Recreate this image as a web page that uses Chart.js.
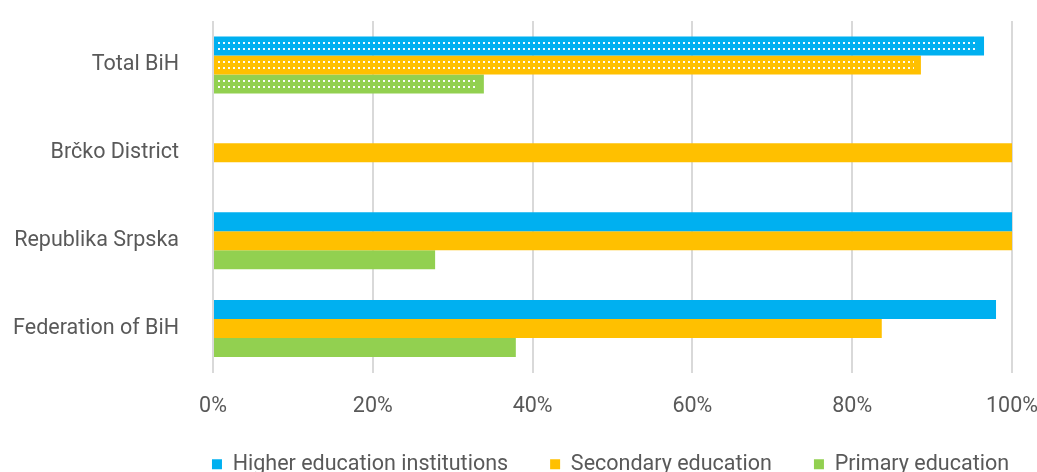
<!DOCTYPE html>
<html><head><meta charset="utf-8">
<script src="https://cdn.jsdelivr.net/npm/chart.js@4"></script>
<style>html,body{margin:0;padding:0;background:#fff}#wrap{width:1037px;height:472px}</style>
</head><body><div id="wrap"><canvas id="c" width="1037" height="472"></canvas></div>
<script>
const categories = ["Total BiH", "Brčko District", "Republika Srpska", "Federation of BiH"];
const seriesNames = ["Higher education institutions", "Secondary education", "Primary education"];
const higherEd = [96.5, null, 100, 98];
const secondaryEd = [88.6, 100, 100, 83.7];
const primaryEd = [33.9, null, 27.8, 37.9];
const xTicks = [0, 20, 40, 60, 80, 100];
const colors = ["#00B0F0", "#FFC000", "#92D050"];

const dottedPlugin = {
  id: 'dotted',
  afterLayout(chart) {
    if (chart.legend) { chart.legend.left += 98; chart.legend.right += 98; }
    const xs = chart.scales.x;
    if (xs) { xs.bottom = xs.top + 70; }
  },
  afterDatasetsDraw(chart) {
    const ctx = chart.ctx;
    chart.data.datasets.forEach((ds, di) => {
      const meta = chart.getDatasetMeta(di);
      const el = meta.data[0];
      if (!el || ds.data[0] == null) return;
      const p = el.getProps(['x','y','base','height'], true);
      ctx.save();
      ctx.strokeStyle = 'rgba(255,255,255,0.95)';
      ctx.lineWidth = 2;
      ctx.setLineDash([2, 3]);
      [-3.2, 3.2].forEach(off => {
        ctx.beginPath();
        ctx.moveTo(p.base + 4, Math.round(p.y + off));
        ctx.lineTo(p.x - 7, Math.round(p.y + off));
        ctx.stroke();
      });
      ctx.restore();
    });
  }
};

const FONT = { family: 'Roboto', size: 21.5 };

new Chart(document.getElementById('c'), {
  type: 'bar',
  data: {
    labels: categories,
    datasets: [
      { label: seriesNames[0], data: higherEd, backgroundColor: colors[0] },
      { label: seriesNames[1], data: secondaryEd, backgroundColor: colors[1] },
      { label: seriesNames[2], data: primaryEd, backgroundColor: colors[2] }
    ]
  },
  options: {
    indexAxis: 'y',
    responsive: false,
    animation: false,
    datasets: { bar: { barPercentage: 1, categoryPercentage: 0.65 } },
    layout: { padding: { left: 13, right: 25, top: 21, bottom: -13 } },
    plugins: {
      legend: {
        position: 'bottom',
        labels: {
          boxWidth: 10, boxHeight: 10, padding: 42,
          color: '#595959',
          font: FONT
        }
      },
      tooltip: { enabled: false }
    },
    scales: {
      x: {
        min: 0, max: 100,
        afterBuildTicks(axis) { axis.ticks = xTicks.map(v => ({ value: v })); },
        afterFit(axis) { axis.height = 39; axis.paddingLeft = 0; axis.paddingRight = 0; },
        grid: { color: '#D9D9D9', lineWidth: 2, drawTicks: false },
        border: { display: false },
        ticks: {
          color: '#595959', padding: 21,
          font: FONT,
          callback: v => v + '%'
        }
      },
      y: {
        afterFit(axis) { axis.width = 200; axis.paddingTop = 0; axis.paddingBottom = 0; },
        grid: { display: false, drawTicks: false },
        border: { display: false },
        ticks: {
          color: '#595959', padding: 34,
          font: FONT
        }
      }
    }
  },
  plugins: [dottedPlugin]
});
</script></body></html>
